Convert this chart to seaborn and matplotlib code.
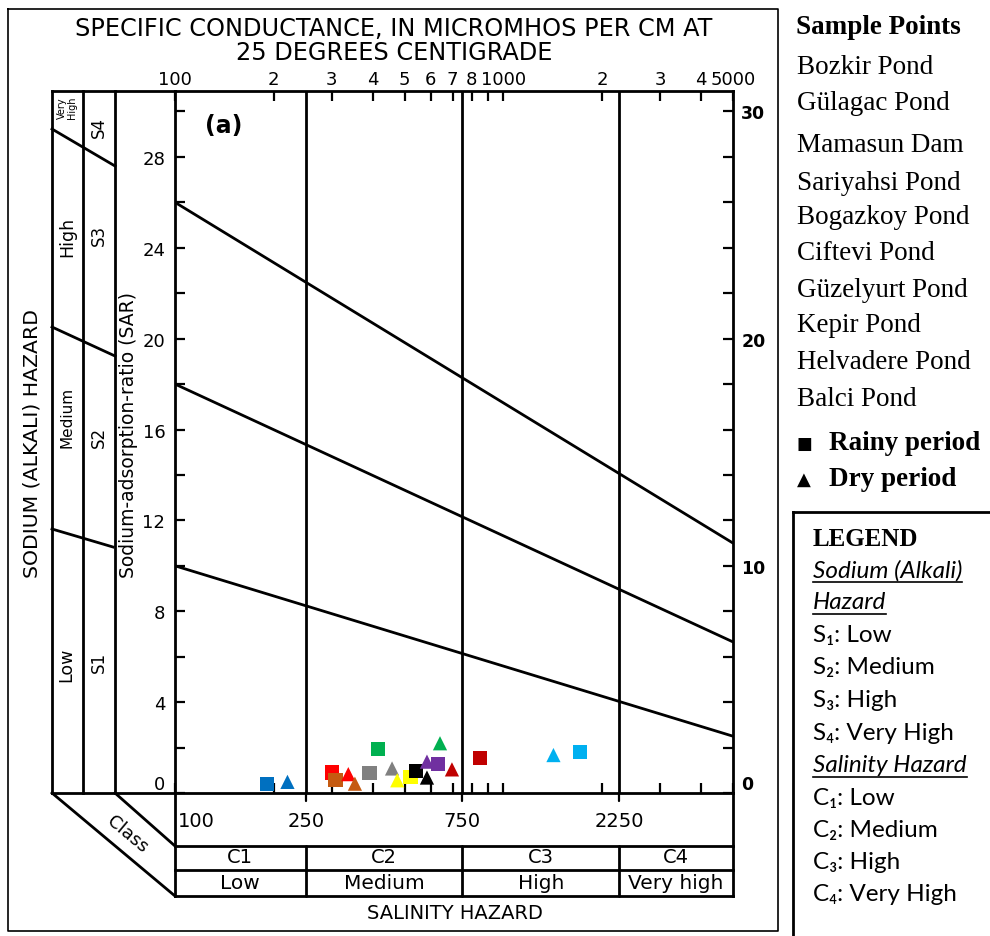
import numpy as np
import pandas as pd
import matplotlib
matplotlib.use("Agg")
import matplotlib.pyplot as plt
import matplotlib.transforms as mtransforms
from matplotlib.ticker import FixedLocator, FixedFormatter, NullFormatter
import seaborn as sns

# ---------------- data ----------------
ponds = ["Bozkir Pond", "Gülagac Pond", "Mamasun Dam", "Sariyahsi Pond", "Bogazkoy Pond",
         "Ciftevi Pond", "Güzelyurt Pond", "Kepir Pond", "Helvadere Pond", "Balci Pond"]
pond_colors = ["#0070C0", "#FF0000", "#C55A11", "#00B050", "#808080",
               "#FFFF00", "#000000", "#7030A0", "#C00000", "#00B0F0"]
rainy_ec = [191, 300, 308, 415, 391, 521, 543, 633, 847, 1710]
rainy_sar = [0.39, 0.90, 0.56, 1.93, 0.89, 0.71, 0.98, 1.26, 1.53, 1.82]
dry_ec = [220, 337, 353, 641, 458, 475, 585, 585, 697, 1420]
dry_sar = [0.49, 0.83, 0.41, 2.19, 1.08, 0.56, 0.68, 1.38, 1.04, 1.67]
periods = ["Rainy period", "Dry period"]

hazard_ec = [100, 5000]
s1_s2 = [10.0, 2.5]
s2_s3 = [18.0, 6.65]
s3_s4 = [26.0, 11.0]

salinity_bounds = [250, 750, 2250]
salinity_classes = ["C1", "C2", "C3", "C4"]
salinity_levels = ["Low", "Medium", "High", "Very high"]
bottom_labels = ["100", "250", "750", "2250"]

top_ticks = [100, 200, 300, 400, 500, 600, 700, 800, 1000, 2000, 3000, 4000, 5000]
top_tick_labels = ["100", "2", "3", "4", "5", "6", "7", "8", "1000", "2", "3", "4", "5000"]
top_minor = [900]
left_sar_major = [0, 4, 8, 12, 16, 20, 24, 28]
left_sar_minor = [2, 6, 10, 14, 18, 22, 26, 30]
right_sar_major = [0, 10, 20, 30]
right_sar_minor = [2, 4, 6, 8, 12, 14, 16, 18, 22, 24, 26, 28]

hazard_levels = ["Low", "Medium", "High", "Very High"]
sub_digits = ["\u2081", "\u2082", "\u2083", "\u2084"]

# ---------------- figure ----------------
sns.set_theme(style="white")
plt.rcParams["font.family"] = ["DejaVu Sans"]
plt.rcParams["text.color"] = "black"
plt.rcParams["axes.labelcolor"] = "black"
plt.rcParams["xtick.color"] = "black"
plt.rcParams["ytick.color"] = "black"

W, H = 990, 937
fig = plt.figure(figsize=(W / 100, H / 100), dpi=100)
fig.patch.set_facecolor("white")

ov = fig.add_axes([0, 0, 1, 1], zorder=0)
ov.set_xlim(0, W)
ov.set_ylim(H, 0)
ov.axis("off")

L, R, T, B = 175, 733, 92, 794
ax = fig.add_axes([L / W, 1 - B / H, (R - L) / W, (B - T) / H], zorder=2)
ax.set_facecolor("none")

df = pd.DataFrame({
    "pond": ponds + ponds,
    "period": [periods[0]] * len(ponds) + [periods[1]] * len(ponds),
    "ec": rainy_ec + dry_ec,
    "sar": rainy_sar + dry_sar,
})

LW = 2.0
ax.set_xscale("log")
for b in salinity_bounds:
    ax.axvline(b, color="black", lw=LW, zorder=1)
for line in (s1_s2, s2_s3, s3_s4):
    ax.plot(hazard_ec, line, color="black", lw=LW, zorder=1)

sns.scatterplot(data=df, x="ec", y="sar", hue="pond", style="period",
                palette=dict(zip(ponds, pond_colors)),
                markers={periods[0]: "s", periods[1]: "^"},
                s=105, linewidth=0, legend=False, ax=ax, zorder=5)

ax.set_xlim(100, 5000)
ax.set_ylim(0, 30.9)
ax.set_xlabel("")
ax.set_ylabel("")

ax.xaxis.set_major_locator(FixedLocator(top_ticks))
ax.xaxis.set_major_formatter(FixedFormatter(top_tick_labels))
ax.xaxis.set_minor_locator(FixedLocator(top_minor))
ax.xaxis.set_minor_formatter(NullFormatter())
ax.tick_params(axis="x", which="both", top=True, bottom=True, labeltop=True,
               labelbottom=False, direction="in", length=7, width=1.6,
               pad=2, labelsize=13, colors="black")

ax.yaxis.set_major_locator(FixedLocator(left_sar_major))
ax.yaxis.set_minor_locator(FixedLocator(left_sar_minor))
ax.yaxis.set_minor_formatter(NullFormatter())
ax.tick_params(axis="y", which="both", left=True, right=False, direction="in",
               length=7, width=1.6, pad=7, labelsize=13, colors="black")

ax2 = ax.twinx()
ax2.set_ylim(0, 30.9)
ax2.yaxis.set_major_locator(FixedLocator(right_sar_major))
ax2.yaxis.set_minor_locator(FixedLocator(right_sar_minor))
ax2.yaxis.set_minor_formatter(NullFormatter())
ax2.tick_params(axis="y", which="both", right=True, left=False, direction="in",
                length=7, width=1.6, pad=6, labelsize=12.5, colors="black")
for lbl in ax2.get_yticklabels():
    lbl.set_fontweight("bold")
for s in ax2.spines.values():
    s.set_visible(False)
for s in ax.spines.values():
    s.set_color("black")
    s.set_linewidth(LW)
    s.set_visible(True)

for a in (ax, ax2):
    for lbl in a.get_yticklabels():
        if lbl.get_text() == "0":
            lbl.set_verticalalignment("bottom")

# ---------------- diagram decorations ----------------
def seg(xs, ys, lw=LW, **kw):
    ov.plot(xs, ys, color="black", lw=lw, solid_capstyle="projecting", **kw)

# outer frame
seg([8, 778, 778, 8, 8], [10, 10, 932, 932, 10], lw=1.2)

# left strips
for x in (52, 83, 115):
    seg([x, x], [T, B])
seg([52, L], [T, T])
seg([52, L], [B, B])
seg([52, 115], [130, 167])
seg([52, 115], [328, 357])
seg([52, 113], [530, 548])
# class parallelogram
seg([52, L], [B, 897])
seg([115, L], [B, 847])

# bottom table
bt = mtransforms.blended_transform_factory(ax.transData, ov.transData)
seg([L, L], [B, 897])
seg([R, R], [B, 897])
for y in (847, 871, 897):
    seg([L, R], [y, y])
for b in salinity_bounds:
    ov.plot([b, b], [847, 897], color="black", lw=LW, transform=bt)
    ov.plot([b, b], [B, B + 8], color="black", lw=1.6, transform=bt)

label_pos = [100] + salinity_bounds
for p, t in zip(label_pos, bottom_labels):
    if p == 100:
        ov.text(p * 1.02, 822, t, transform=bt, ha="left", va="center", fontsize=14)
    else:
        ov.text(p, 822, t, transform=bt, ha="center", va="center", fontsize=14)

edges = [100] + salinity_bounds + [5000]
for i in range(4):
    xc = np.sqrt(edges[i] * edges[i + 1])
    ov.text(xc, 858, salinity_classes[i], transform=bt, ha="center", va="center", fontsize=14)
    ov.text(xc, 884, salinity_levels[i], transform=bt, ha="center", va="center", fontsize=14.5)

ov.text(455, 914, "SALINITY HAZARD", ha="center", va="center", fontsize=14)
ov.text(394, 29, "SPECIFIC CONDUCTANCE, IN MICROMHOS PER CM AT", ha="center", va="center", fontsize=17.3)
ov.text(394, 53, "25 DEGREES CENTIGRADE", ha="center", va="center", fontsize=17.3)
ov.text(205, 126, "(a)", ha="left", va="center", fontsize=17, fontweight="bold")

# left panel texts
ov.text(32, 443, "SODIUM (ALKALI) HAZARD", rotation=90, ha="center", va="center", fontsize=14.7)
ov.text(128, 435, "Sodium-adsorption-ratio (SAR)", rotation=90, ha="center", va="center", fontsize=13.5)
ov.text(67, 108, "Very\nHigh", rotation=90, ha="center", va="center", fontsize=7, linespacing=0.9)
ov.text(67, 237, "High", rotation=90, ha="center", va="center", fontsize=12.5)
ov.text(67, 417, "Medium", rotation=90, ha="center", va="center", fontsize=11)
ov.text(66, 665, "Low", rotation=90, ha="center", va="center", fontsize=12.5)
ov.text(99, 127, "S4", rotation=90, ha="center", va="center", fontsize=12)
ov.text(99, 235, "S3", rotation=90, ha="center", va="center", fontsize=12)
ov.text(99, 437, "S2", rotation=90, ha="center", va="center", fontsize=12)
ov.text(99, 662, "S1", rotation=90, ha="center", va="center", fontsize=12)
ov.text(127, 834, "Class", rotation=-40, ha="center", va="center", fontsize=13,
        rotation_mode="anchor")

# ---------------- right legend ----------------
serif = ["Liberation Serif", "DejaVu Serif"]
ov.text(796, 28, "Sample Points", ha="left", va="center", fontsize=19.5, fontweight="bold", family=serif)
pond_y = [68, 104, 146, 184, 217, 254, 291, 326, 363, 400]
for name, y in zip(ponds, pond_y):
    ov.text(797, y, name, ha="left", va="center", fontsize=19.5, family=serif)
ov.text(797, 444, "\u25A0", ha="left", va="center", fontsize=12, family=["DejaVu Sans"])
ov.text(829, 444, periods[0], ha="left", va="center", fontsize=19.5, fontweight="bold", family=serif)
ov.text(797, 480, "\u25B2", ha="left", va="center", fontsize=13, family=["DejaVu Sans"])
ov.text(829, 480, periods[1], ha="left", va="center", fontsize=19.5, fontweight="bold", family=serif)

seg([793, 793], [513, H + 5])
seg([793, W + 5], [513, 513])

sans = ["Lato", "DejaVu Sans"]
ov.text(813, 540, "LEGEND", ha="left", va="center", fontsize=18, fontweight="bold", family=serif)
hdrs = [ov.text(813, 571, "Sodium (Alkali)", ha="left", va="center", fontsize=17.5, style="italic", family=sans),
        ov.text(813, 603, "Hazard", ha="left", va="center", fontsize=17.5, style="italic", family=sans),
        ov.text(813, 766, "Salinity Hazard", ha="left", va="center", fontsize=17.5, style="italic", family=sans)]
s_y = [636, 668, 701, 734]
c_y = [799, 831, 863, 895]
for i in range(4):
    ov.text(813, s_y[i], "S" + sub_digits[i] + ": " + hazard_levels[i], ha="left", va="center", fontsize=17.5, family=sans)
    ov.text(813, c_y[i], "C" + sub_digits[i] + ": " + hazard_levels[i], ha="left", va="center", fontsize=17.5, family=sans)

fig.canvas.draw()
rend = fig.canvas.get_renderer()
for t in hdrs:
    bb = t.get_window_extent(rend)
    y = H - bb.y0 + 1
    seg([bb.x0, bb.x1], [y, y], lw=1.2)

fig.savefig("out.png", dpi=100)
